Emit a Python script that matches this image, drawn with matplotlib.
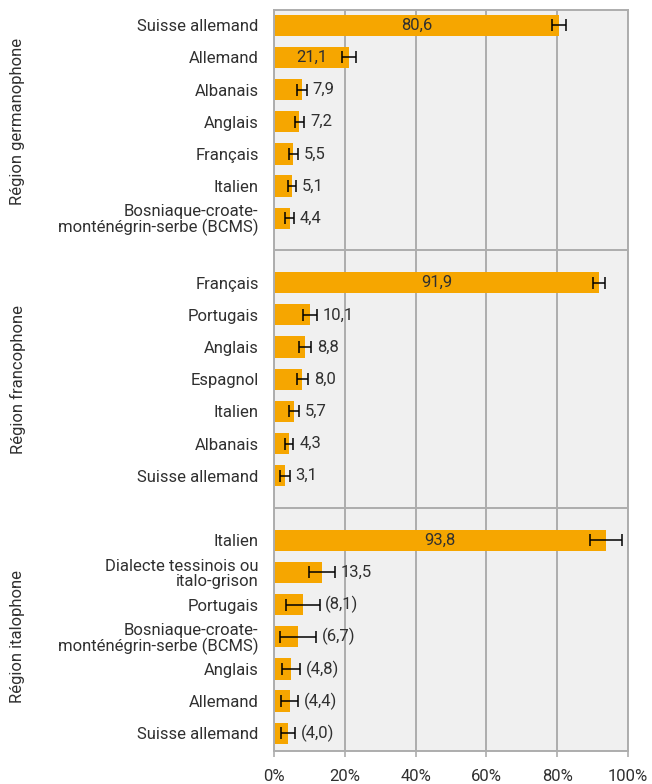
import matplotlib
matplotlib.use("Agg")
import matplotlib.pyplot as plt
import numpy as np

plt.rcParams["font.family"] = ["Roboto", "DejaVu Sans"]

groups = ["Région germanophone", "Région francophone", "Région italophone"]

labels_de = ["Suisse allemand", "Allemand", "Albanais", "Anglais", "Français", "Italien",
             "Bosniaque-croate-\nmonténégrin-serbe (BCMS)"]
values_de = [80.6, 21.1, 7.9, 7.2, 5.5, 5.1, 4.4]
err_de = [2.0, 2.0, 1.4, 1.4, 1.2, 1.1, 1.2]

labels_fr = ["Français", "Portugais", "Anglais", "Espagnol", "Italien", "Albanais", "Suisse allemand"]
values_fr = [91.9, 10.1, 8.8, 8.0, 5.7, 4.3, 3.1]
err_fr = [1.7, 2.0, 1.7, 1.6, 1.4, 1.2, 1.3]

labels_it = ["Italien", "Dialecte tessinois ou\nitalo-grison", "Portugais",
             "Bosniaque-croate-\nmonténégrin-serbe (BCMS)", "Anglais", "Allemand", "Suisse allemand"]
values_it = [93.8, 13.5, 8.1, 6.7, 4.8, 4.4, 4.0]
err_it = [4.5, 3.7, 4.8, 5.1, 2.6, 2.3, 2.0]
# values shown in brackets (low reliability)
bracket_it = [False, False, True, True, True, True, True]

BAR = "#F6A600"
GRID = "#ADADAD"
TXT = "#303030"
FS = 12

fig = plt.figure(figsize=(6.52, 7.84), dpi=100)
ax = fig.add_axes([274 / 652, 33 / 784, 354 / 652, 741 / 784])
ax.set_facecolor("#F0F0F0")

sections = [(labels_de, values_de, err_de, [False] * 7),
            (labels_fr, values_fr, err_fr, [False] * 7),
            (labels_it, values_it, err_it, bracket_it)]

ypos, ylabels = [], []
start = 0
for s, (labs, vals, errs, br) in enumerate(sections):
    y = np.arange(start, start + len(labs))
    ax.barh(y, vals, height=0.66, color=BAR, zorder=2)
    ax.errorbar(vals, y, xerr=errs, fmt="none", ecolor="black", elinewidth=1.1,
                capsize=4.3, capthick=1.1, zorder=3)
    for yi, v, e, b in zip(y, vals, errs, br):
        txt = f"{v:.1f}".replace(".", ",")
        if b:
            txt = f"({txt})"
        if v > 15:
            ax.text(v / 2, yi, txt, ha="center", va="center", fontsize=FS,
                    color=TXT, zorder=4)
        else:
            ax.text(v + e + 1.6, yi, txt, ha="left", va="center", fontsize=FS,
                    color=TXT, zorder=4)
    ypos.extend(y)
    ylabels.extend(labs)
    mid = (y[0] + y[-1]) / 2
    ax.text(18 / 652, mid, groups[s], transform=ax.get_yaxis_transform().__class__(
        fig.transFigure, ax.transData), rotation=90,
            ha="center", va="center", fontsize=FS, color=TXT)
    if s < len(sections) - 1:
        ax.axhline(start + len(labs), color=GRID, lw=1.4, zorder=1)
    start += len(labs) + 1

ax.set_yticks(ypos)
ax.set_yticklabels(ylabels, fontsize=FS, color=TXT, linespacing=1.0)
ax.tick_params(axis="y", length=0, pad=11)
ax.set_ylim(22.55, -0.47)

ax.set_xlim(0, 100)
ax.set_xticks(np.arange(0, 101, 20))
ax.set_xticklabels([f"{t}%" for t in range(0, 101, 20)], fontsize=FS, color=TXT)
ax.tick_params(axis="x", length=4, color=GRID, width=1.2, pad=9)
ax.grid(axis="x", color=GRID, lw=1.4, zorder=1)
ax.set_axisbelow(True)
for sp in ax.spines.values():
    sp.set_color(GRID)
    sp.set_linewidth(1.4)

fig.savefig("out.png", dpi=100)
